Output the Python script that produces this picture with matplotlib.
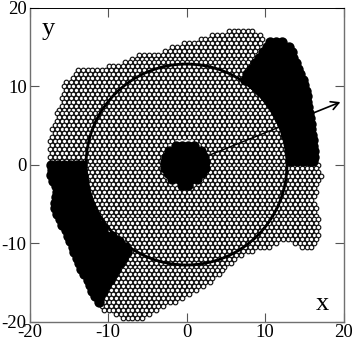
import matplotlib
matplotlib.use("Agg")
import matplotlib.pyplot as plt

plt.rcParams['font.family'] = ['Liberation Serif', 'DejaVu Serif']
plt.rcParams['axes.unicode_minus'] = False

# Particle positions, in tenths of an axis unit, row by row.
white_y = [170,165,160,155,150,145,140,135,130,125,120,115,110,105,100,95,90,85,80,75,70,65,60,55,50,45,40,35,30,25,20,15,10,5,
           0,-5,-10,-15,-20,-25,-30,-35,-40,-45,-50,-55,-60,-65,-70,-75,-80,-85,-90,-95,-100,-105,-110,-115,-120,-125,-130,-135,-140,-145,-150,-155,-160,-165,-170,-175,-180,-185,-190,-195]
white_x = [
[54,60,66,72,78,84],
[33,39,45,51,57,63,69,75,81,87,93],
[18,24,30,36,42,48,54,60,66,72,78,84,90,96],
[-3,3,9,15,21,27,33,39,45,51,57,63,69,75,81,87,93],
[-18,-12,-6,0,6,12,18,24,30,36,42,48,54,60,66,72,78,84,90],
[-27,-21,-15,-9,-3,3,9,15,21,27,33,39,45,51,57,63,69,75,81,87],
[-60,-54,-48,-42,-36,-30,-24,-18,-12,-6,0,6,12,18,24,30,36,42,48,54,60,66,72,78,84],
[-69,-63,-57,-51,-45,-39,-33,-27,-21,-15,-9,-3,3,9,15,21,27,33,39,45,51,57,63,69,75,81],
[-78,-72,-66,-60,-54,-48,-42,-36,-30,-24,-18,-12,-6,0,6,12,18,24,30,36,42,48,54,60,66,72,78],
[-99,-93,-87,-81,-75,-69,-63,-57,-51,-45,-39,-33,-27,-21,-15,-9,-3,3,9,15,21,27,33,39,45,51,57,63,69,75],
[-138,-132,-126,-120,-114,-108,-102,-96,-90,-84,-78,-72,-66,-60,-54,-48,-42,-36,-30,-24,-18,-12,-6,0,6,12,18,24,30,36,42,48,54,60,66,72],
[-141,-135,-129,-123,-117,-111,-105,-99,-93,-87,-81,-75,-69,-63,-57,-51,-45,-39,-33,-27,-21,-15,-9,-3,3,9,15,21,27,33,39,45,51,57,63,69],
[-144,-138,-132,-126,-120,-114,-108,-102,-96,-90,-84,-78,-72,-66,-60,-54,-48,-42,-36,-30,-24,-18,-12,-6,0,6,12,18,24,30,36,42,48,54,60,66],
[-153,-147,-141,-135,-129,-123,-117,-111,-105,-99,-93,-87,-81,-75,-69,-63,-57,-51,-45,-39,-33,-27,-21,-15,-9,-3,3,9,15,21,27,33,39,45,51,57,63,69],
[-156,-150,-144,-138,-132,-126,-120,-114,-108,-102,-96,-90,-84,-78,-72,-66,-60,-54,-48,-42,-36,-30,-24,-18,-12,-6,0,6,12,18,24,30,36,42,48,54,60,66,72,78],
[-153,-147,-141,-135,-129,-123,-117,-111,-105,-99,-93,-87,-81,-75,-69,-63,-57,-51,-45,-39,-33,-27,-21,-15,-9,-3,3,9,15,21,27,33,39,45,51,57,63,69,75,81,87],
[-156,-150,-144,-138,-132,-126,-120,-114,-108,-102,-96,-90,-84,-78,-72,-66,-60,-54,-48,-42,-36,-30,-24,-18,-12,-6,0,6,12,18,24,30,36,42,48,54,60,66,72,78,84,90],
[-159,-153,-147,-141,-135,-129,-123,-117,-111,-105,-99,-93,-87,-81,-75,-69,-63,-57,-51,-45,-39,-33,-27,-21,-15,-9,-3,3,9,15,21,27,33,39,45,51,57,63,69,75,81,87,93],
[-156,-150,-144,-138,-132,-126,-120,-114,-108,-102,-96,-90,-84,-78,-72,-66,-60,-54,-48,-42,-36,-30,-24,-18,-12,-6,0,6,12,18,24,30,36,42,48,54,60,66,72,78,84,90,96],
[-159,-153,-147,-141,-135,-129,-123,-117,-111,-105,-99,-93,-87,-81,-75,-69,-63,-57,-51,-45,-39,-33,-27,-21,-15,-9,-3,3,9,15,21,27,33,39,45,51,57,63,69,75,81,87,93,99,105],
[-162,-156,-150,-144,-138,-132,-126,-120,-114,-108,-102,-96,-90,-84,-78,-72,-66,-60,-54,-48,-42,-36,-30,-24,-18,-12,-6,0,6,12,18,24,30,36,42,48,54,60,66,72,78,84,90,96,102,108],
[-165,-159,-153,-147,-141,-135,-129,-123,-117,-111,-105,-99,-93,-87,-81,-75,-69,-63,-57,-51,-45,-39,-33,-27,-21,-15,-9,-3,3,9,15,21,27,33,39,45,51,57,63,69,75,81,87,93,99,105,111],
[-162,-156,-150,-144,-138,-132,-126,-120,-114,-108,-102,-96,-90,-84,-78,-72,-66,-60,-54,-48,-42,-36,-30,-24,-18,-12,-6,0,6,12,18,24,30,36,42,48,54,60,66,72,78,84,90,96,102,108],
[-165,-159,-153,-147,-141,-135,-129,-123,-117,-111,-105,-99,-93,-87,-81,-75,-69,-63,-57,-51,-45,-39,-33,-27,-21,-15,-9,-3,3,9,15,21,27,33,39,45,51,57,63,69,75,81,87,93,99,105,111,117],
[-168,-162,-156,-150,-144,-138,-132,-126,-120,-114,-108,-102,-96,-90,-84,-78,-72,-66,-60,-54,-48,-42,-36,-30,-24,-18,-12,-6,0,6,12,18,24,30,36,42,48,54,60,66,72,78,84,90,96,102,108,114],
[-171,-165,-159,-153,-147,-141,-135,-129,-123,-117,-111,-105,-99,-93,-87,-81,-75,-69,-63,-57,-51,-45,-39,-33,-27,-21,-15,-9,-3,3,9,15,21,27,33,39,45,51,57,63,69,75,81,87,93,99,105,111,117],
[-168,-162,-156,-150,-144,-138,-132,-126,-120,-114,-108,-102,-96,-90,-84,-78,-72,-66,-60,-54,-48,-42,-36,-30,-24,-18,-12,-6,0,6,12,18,24,30,36,42,48,54,60,66,72,78,84,90,96,102,108,114,120],
[-171,-165,-159,-153,-147,-141,-135,-129,-123,-117,-111,-105,-99,-93,-87,-81,-75,-69,-63,-57,-51,-45,-39,-33,-27,-21,-15,-9,-3,3,9,15,21,27,33,39,45,51,57,63,69,75,81,87,93,99,105,111,117,123],
[-174,-168,-162,-156,-150,-144,-138,-132,-126,-120,-114,-108,-102,-96,-90,-84,-78,-72,-66,-60,-54,-48,-42,-36,-30,-24,-18,12,18,24,30,36,42,48,54,60,66,72,78,84,90,96,102,108,114,120],
[-171,-165,-159,-153,-147,-141,-135,-129,-123,-117,-111,-105,-99,-93,-87,-81,-75,-69,-63,-57,-51,-45,-39,-33,-27,21,27,33,39,45,51,57,63,69,75,81,87,93,99,105,111,117,123],
[-174,-168,-162,-156,-150,-144,-138,-132,-126,-120,-114,-108,-102,-96,-90,-84,-78,-72,-66,-60,-54,-48,-42,-36,-30,24,30,36,42,48,54,60,66,72,78,84,90,96,102,108,114,120,126],
[-171,-165,-159,-153,-147,-141,-135,-129,-123,-117,-111,-105,-99,-93,-87,-81,-75,-69,-63,-57,-51,-45,-39,-33,27,33,39,45,51,57,63,69,75,81,87,93,99,105,111,117,123],
[-174,-168,-162,-156,-150,-144,-138,-132,-126,-120,-114,-108,-102,-96,-90,-84,-78,-72,-66,-60,-54,-48,-42,-36,30,36,42,48,54,60,66,72,78,84,90,96,102,108,114,120,126],
[-171,-165,-159,-153,-147,-141,-135,-129,-123,-117,-111,-105,-99,-93,-87,-81,-75,-69,-63,-57,-51,-45,-39,-33,33,39,45,51,57,63,69,75,81,87,93,99,105,111,117,123,129],
[-126,-120,-114,-108,-102,-96,-90,-84,-78,-72,-66,-60,-54,-48,-42,-36,30,36,42,48,54,60,66,72,78,84,90,96,102,108,114,120,126,132,138,144,150,156,162,168],
[-123,-117,-111,-105,-99,-93,-87,-81,-75,-69,-63,-57,-51,-45,-39,-33,33,39,45,51,57,63,69,75,81,87,93,99,105,111,117,123,129,135,141,147,153,159,165],
[-126,-120,-114,-108,-102,-96,-90,-84,-78,-72,-66,-60,-54,-48,-42,-36,-30,30,36,42,48,54,60,66,72,78,84,90,96,102,108,114,120,126,132,138,144,150,156,162,168],
[-123,-117,-111,-105,-99,-93,-87,-81,-75,-69,-63,-57,-51,-45,-39,-33,27,33,39,45,51,57,63,69,75,81,87,93,99,105,111,117,123,129,135,141,147,153,159,165,171],
[-120,-114,-108,-102,-96,-90,-84,-78,-72,-66,-60,-54,-48,-42,-36,-30,-24,24,30,36,42,48,54,60,66,72,78,84,90,96,102,108,114,120,126,132,138,144,150,156,162,168],
[-123,-117,-111,-105,-99,-93,-87,-81,-75,-69,-63,-57,-51,-45,-39,-33,-27,-21,15,21,27,33,39,45,51,57,63,69,75,81,87,93,99,105,111,117,123,129,135,141,147,153,159,165],
[-120,-114,-108,-102,-96,-90,-84,-78,-72,-66,-60,-54,-48,-42,-36,-30,-24,-18,-12,-6,0,6,12,18,24,30,36,42,48,54,60,66,72,78,84,90,96,102,108,114,120,126,132,138,144,150,156,162],
[-123,-117,-111,-105,-99,-93,-87,-81,-75,-69,-63,-57,-51,-45,-39,-33,-27,-21,-15,-9,-3,3,9,15,21,27,33,39,45,51,57,63,69,75,81,87,93,99,105,111,117,123,129,135,141,147,153,159,165],
[-120,-114,-108,-102,-96,-90,-84,-78,-72,-66,-60,-54,-48,-42,-36,-30,-24,-18,-12,-6,0,6,12,18,24,30,36,42,48,54,60,66,72,78,84,90,96,102,108,114,120,126,132,138,144,150,156,162],
[-117,-111,-105,-99,-93,-87,-81,-75,-69,-63,-57,-51,-45,-39,-33,-27,-21,-15,-9,-3,3,9,15,21,27,33,39,45,51,57,63,69,75,81,87,93,99,105,111,117,123,129,135,141,147,153,159],
[-114,-108,-102,-96,-90,-84,-78,-72,-66,-60,-54,-48,-42,-36,-30,-24,-18,-12,-6,0,6,12,18,24,30,36,42,48,54,60,66,72,78,84,90,96,102,108,114,120,126,132,138,144,150,156,162],
[-111,-105,-99,-93,-87,-81,-75,-69,-63,-57,-51,-45,-39,-33,-27,-21,-15,-9,-3,3,9,15,21,27,33,39,45,51,57,63,69,75,81,87,93,99,105,111,117,123,129,135,141,147,153,159,165],
[-108,-102,-96,-90,-84,-78,-72,-66,-60,-54,-48,-42,-36,-30,-24,-18,-12,-6,0,6,12,18,24,30,36,42,48,54,60,66,72,78,84,90,96,102,108,114,120,126,132,138,144,150,156,162],
[-105,-99,-93,-87,-81,-75,-69,-63,-57,-51,-45,-39,-33,-27,-21,-15,-9,-3,3,9,15,21,27,33,39,45,51,57,63,69,75,81,87,93,99,105,111,117,123,129,135,141,147,153,159,165],
[-102,-96,-90,-84,-78,-72,-66,-60,-54,-48,-42,-36,-30,-24,-18,-12,-6,0,6,12,18,24,30,36,42,48,54,60,66,72,78,84,90,96,102,108,114,120,126,132,138,144,150,156,162,168],
[-99,-93,-87,-81,-75,-69,-63,-57,-51,-45,-39,-33,-27,-21,-15,-9,-3,3,9,15,21,27,33,39,45,51,57,63,69,75,81,87,93,99,105,111,117,123,129,135,141,147,153,159,165],
[-96,-90,-84,-78,-72,-66,-60,-54,-48,-42,-36,-30,-24,-18,-12,-6,0,6,12,18,24,30,36,42,48,54,60,66,72,78,84,90,96,102,108,114,120,126,132,138,144,150,156,162,168],
[-93,-87,-81,-75,-69,-63,-57,-51,-45,-39,-33,-27,-21,-15,-9,-3,3,9,15,21,27,33,39,45,51,57,63,69,75,81,87,93,99,105,111,117,123,129,135,141,147,153,159,165],
[-90,-84,-78,-72,-66,-60,-54,-48,-42,-36,-30,-24,-18,-12,-6,0,6,12,18,24,30,36,42,48,54,60,66,72,78,84,90,96,102,108,114,120,126,132,138,144,150,156,162,168],
[-81,-75,-69,-63,-57,-51,-45,-39,-33,-27,-21,-15,-9,-3,3,9,15,21,27,33,39,45,51,57,63,69,75,81,87,93,99,105,111,117,123,129,135,141,147,153,159,165],
[-78,-72,-66,-60,-54,-48,-42,-36,-30,-24,-18,-12,-6,0,6,12,18,24,30,36,42,48,54,60,66,72,78,84,90,96,102,108,114,138,144,150,156,162],
[-69,-63,-57,-51,-45,-39,-33,-27,-21,-15,-9,-3,3,9,15,21,27,33,39,45,51,57,63,69,75,81,87,93,99,105,147,153,159],
[-66,-60,-54,-48,-42,-36,-30,-24,-18,-12,-6,0,6,12,18,24,30,36,42,48,54,60,66,72,78,84],
[-75,-69,-63,-57,-51,-45,-39,-33,-27,-21,-15,-9,-3,3,9,15,21,27,33,39,45,51,57,63,69],
[-78,-72,-66,-60,-54,-48,-42,-36,-30,-24,-18,-12,-6,0,6,12,18,24,30,36,42,48,54,60],
[-81,-75,-69,-63,-57,-51,-45,-39,-33,-27,-21,-15,-9,-3,3,9,15,21,27,33,39,45,51,57],
[-84,-78,-72,-66,-60,-54,-48,-42,-36,-30,-24,-18,-12,-6,0,6,12,18,24,30,36,42,48],
[-87,-81,-75,-69,-63,-57,-51,-45,-39,-33,-27,-21,-15,-9,-3,3,9,15,21,27,33,39,45],
[-90,-84,-78,-72,-66,-60,-54,-48,-42,-36,-30,-24,-18,-12,-6,0,6,12,18,24,30,36,42],
[-93,-87,-81,-75,-69,-63,-57,-51,-45,-39,-33,-27,-21,-15,-9,-3,3,9,15,21,27,33],
[-96,-90,-84,-78,-72,-66,-60,-54,-48,-42,-36,-30,-24,-18,-12,-6,0,6,12,18,24,30],
[-99,-93,-87,-81,-75,-69,-63,-57,-51,-45,-39,-33,-27,-21,-15,-9,-3,3,9,15,21],
[-102,-96,-90,-84,-78,-72,-66,-60,-54,-48,-42,-36,-30,-24,-18,-12,-6,0,6,12],
[-105,-99,-93,-87,-81,-75,-69,-63,-57,-51,-45,-39,-33,-27,-21,-15,-9,-3,3],
[-108,-102,-96,-90,-84,-78,-72,-66,-60,-54,-48,-42,-36,-30,-24,-18,-12,-6],
[-111,-105,-99,-93,-87,-81,-75,-69,-63,-57,-51,-45,-39,-33,-27,-21,-15],
[-108,-102,-96,-90,-84,-78,-72,-66,-60,-54,-48,-42,-36,-30],
[-105,-99,-93,-87,-81,-75,-69,-63,-57,-51,-45,-39],
[-90,-84,-78,-72,-66,-60,-54,-48],
[-81,-75,-69,-63,-57],
]

black_y = [156,150,143,136,129,122,115,108,101,94,87,80,73,66,59,52,45,38,31,24,17,10,4,
           0,-7,-14,-21,-28,-35,-42,-49,-56,-63,-70,-77,-84,-91,-98,-105,-112,-119,-126,-133,-140,-147,-154,-161,-168,-175,
           24,17,10,3,-4,-11,-18,-26]
black_x = [
[106,114,122],
[102,110,118,126,130],
[97,105,113,121,129,134],
[92,100,108,116,124,132,136],
[87,95,103,111,119,127,135,139],
[82,90,98,106,114,122,130,138,142],
[77,85,93,101,109,117,125,133,141,145],
[74,82,90,98,106,114,122,130,138,146,148],
[86,94,102,110,118,126,134,142,150],
[94,102,110,118,126,134,142,150,152],
[100,108,116,124,132,140,148,153],
[106,114,122,130,138,146,154],
[111,119,127,135,143,151,155],
[115,123,131,139,147,155,156],
[118,126,134,142,150,157],
[122,130,138,146,154,158],
[125,133,141,149,157,159],
[127,135,143,151,159,160],
[129,137,145,153,161],
[130,138,146,154,161],
[131,139,147,155,162],
[133,141,149,157,162],
[133,141,149,157,161],
[-172,-164,-156,-148,-140,-133],
[-171,-163,-155,-147,-139,-133],
[-172,-164,-156,-148,-140,-132],
[-170,-162,-154,-146,-138,-131],
[-166,-158,-150,-142,-134,-130],
[-165,-157,-149,-141,-133,-129],
[-166,-158,-150,-142,-134,-127],
[-167,-159,-151,-143,-135,-126],
[-167,-159,-151,-143,-135,-127,-123],
[-165,-157,-149,-141,-133,-125,-119],
[-161,-153,-145,-137,-129,-121,-115],
[-158,-150,-142,-134,-126,-118,-110],
[-154,-146,-138,-130,-122,-114,-106],
[-151,-143,-135,-127,-119,-111,-103,-95],
[-148,-140,-132,-124,-116,-108,-100,-92,-86],
[-145,-137,-129,-121,-113,-105,-97,-89,-81,-77],
[-143,-135,-127,-119,-111,-103,-95,-87,-79,-76],
[-140,-132,-124,-116,-108,-100,-92,-84,-81],
[-137,-129,-121,-113,-105,-97,-89,-85],
[-134,-126,-118,-110,-102,-94,-90],
[-130,-122,-114,-106,-98,-93],
[-126,-118,-110,-102,-98],
[-123,-115,-107,-103],
[-120,-112,-107],
[-116,-110],
[-111],
[-14,-6,2,10],
[-22,-14,-6,2,10,18],
[-26,-18,-10,-2,6,14,22],
[-28,-20,-12,-4,4,12,20,24],
[-27,-19,-11,-3,5,13,21,23],
[-24,-16,-8,0,8,16,20],
[-18,-10,-2,6,14],
[-6,2],
]

xticks = [-20, -10, 0, 10, 20]
yticks = [-20, -10, 0, 10, 20]
big_radius = 12.8
spoke_x = [2.7, 11.9]
spoke_y = [1.1, 4.8]
arrow_start = (16.0, 6.5)
arrow_end = (19.6, 7.95)

W, H = 354, 341
fig = plt.figure(figsize=(W / 100, H / 100), dpi=100)
ax = fig.add_axes([29.5 / W, (H - 321.5) / H, 314 / W, 314 / H])

wx, wy = [], []
for y, row in zip(white_y, white_x):
    for x in row:
        wx.append(x / 10)
        wy.append(y / 10)
bx, by = [], []
for y, row in zip(black_y, black_x):
    for x in row:
        bx.append(x / 10)
        by.append(y / 10)

ax.scatter(wx, wy, s=11, facecolor='white', edgecolor='#111111', linewidth=0.85, zorder=2)
ax.scatter(bx, by, s=56, facecolor='black', edgecolor='black', linewidth=0, zorder=3)

ax.add_patch(plt.Circle((0, 0), big_radius, fill=False, edgecolor='black', linewidth=2.0, zorder=4))
ax.plot(spoke_x, spoke_y, color='black', linewidth=1.0, zorder=4)
ax.annotate('', xy=arrow_end, xytext=arrow_start,
            arrowprops=dict(arrowstyle='->,head_length=0.55,head_width=0.3', color='black',
                            linewidth=1.2, shrinkA=0, shrinkB=0), zorder=5)

ax.set_xlim(-20, 20)
ax.set_ylim(-20, 20)
ax.set_xticks(xticks)
ax.set_yticks(yticks)
ax.tick_params(axis='both', direction='in', length=6.5, width=0.8, color='#555555',
               top=True, right=True, labelsize=13.5, pad=2.0)
for name in ['left', 'bottom', 'right']:
    ax.spines[name].set_color('#707070')
    ax.spines[name].set_linewidth(1.0)
ax.spines['top'].set_color('black')
ax.spines['top'].set_linewidth(0.7)

ax.text(-17.6, 17.3, 'y', fontsize=19, ha='center', va='center')
ax.text(17.3, -17.8, 'x', fontsize=19, ha='center', va='center')

fig.savefig('out.png', dpi=100)
